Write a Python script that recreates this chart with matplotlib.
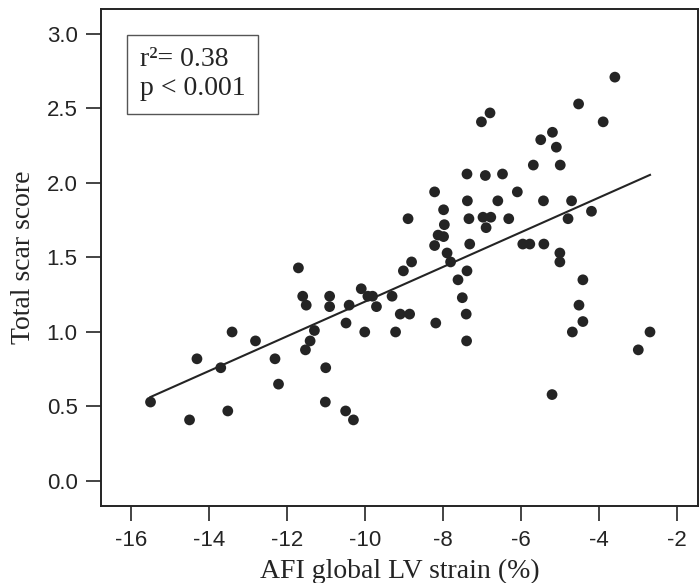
import numpy as np
import matplotlib
matplotlib.use("Agg")
import matplotlib.pyplot as plt

# AFI global LV strain (%) vs total scar score
strain = [-15.50, -14.50, -14.31, -13.70, -13.52, -13.41, -12.81, -12.31, -12.22,
          -11.71, -11.60, -11.51, -11.53, -11.41, -11.30, -11.01, -11.02, -10.91,
          -10.91, -10.50, -10.49, -10.41, -10.30, -10.10, -10.01, -9.93, -9.81,
          -9.71, -9.31, -9.22, -9.10, -9.02, -8.90, -8.86, -8.81, -8.22, -8.22,
          -8.19, -8.13, -7.99, -7.99, -7.97, -7.90, -7.81, -7.62, -7.51, -7.41,
          -7.39, -7.39, -7.38, -7.34, -7.32, -7.40, -7.02, -6.80, -6.98, -6.92,
          -6.90, -6.78, -6.60, -6.48, -6.32, -6.10, -5.96, -5.78, -5.69, -5.50,
          -5.43, -5.42, -5.21, -5.20, -5.10, -5.00, -5.01, -5.01, -4.80, -4.71,
          -4.69, -4.53, -4.52, -4.42, -4.42, -4.20, -3.90, -3.60, -3.00, -2.70]
scar = [0.53, 0.41, 0.82, 0.76, 0.47, 1.00, 0.94, 0.82, 0.65,
        1.43, 1.24, 1.18, 0.88, 0.94, 1.01, 0.76, 0.53, 1.24,
        1.17, 0.47, 1.06, 1.18, 0.41, 1.29, 1.00, 1.24, 1.24,
        1.17, 1.24, 1.00, 1.12, 1.41, 1.76, 1.12, 1.47, 1.94, 1.58,
        1.06, 1.65, 1.64, 1.82, 1.72, 1.53, 1.47, 1.35, 1.23, 1.12,
        1.41, 2.06, 1.88, 1.76, 1.59, 0.94, 2.41, 2.47, 1.77, 2.05,
        1.70, 1.77, 1.88, 2.06, 1.76, 1.94, 1.59, 1.59, 2.12, 2.29,
        1.88, 1.59, 0.58, 2.34, 2.24, 2.12, 1.53, 1.47, 1.76, 1.88,
        1.00, 2.53, 1.18, 1.35, 1.07, 1.81, 2.41, 2.71, 0.88, 1.00]

x_ticks = [-16, -14, -12, -10, -8, -6, -4, -2]
y_ticks = [0.0, 0.5, 1.0, 1.5, 2.0, 2.5, 3.0]

dark = "#242424"
serif = "Liberation Serif"
sans = "Liberation Sans"

fig = plt.figure(figsize=(6.99, 5.83), dpi=100)
ax = fig.add_axes([0.145, 0.132, 0.853, 0.852])

ax.scatter(strain, scar, s=60, color=dark, edgecolors="none", zorder=3)

# least-squares line over the data range
slope, icept = np.polyfit(strain, scar, 1)
xs = np.array([min(strain), max(strain)])
ax.plot(xs, slope * xs + icept, color=dark, lw=1.5, zorder=2)

ax.set_xlim(-16.76, -1.48)
ax.set_ylim(-0.168, 3.165)
ax.set_xticks(x_ticks)
ax.set_yticks(y_ticks)
ax.set_xticklabels([str(t) for t in x_ticks], fontfamily=sans, fontsize=16)
ax.set_yticklabels([f"{t:.1f}" for t in y_ticks], fontfamily=sans, fontsize=16)
ax.tick_params(direction="out", length=11, width=1.2, color=dark, labelcolor=dark, pad=6)

for sp in ax.spines.values():
    sp.set_color(dark)
    sp.set_linewidth(1.4)

ax.set_xlabel("AFI global LV strain (%)", fontfamily=serif, fontsize=20, color=dark, labelpad=6)
ax.set_ylabel("Total scar score", fontfamily=serif, fontsize=20, color=dark, labelpad=8)

ax.text(-15.77, 2.73, "r\u00b2= 0.38\np < 0.001", fontfamily=serif, fontsize=20, color=dark,
        va="center", ha="left", linespacing=1.2,
        bbox=dict(boxstyle="square,pad=0.45", fc="white", ec="#555555", lw=1))

fig.savefig("out.png", dpi=100)
